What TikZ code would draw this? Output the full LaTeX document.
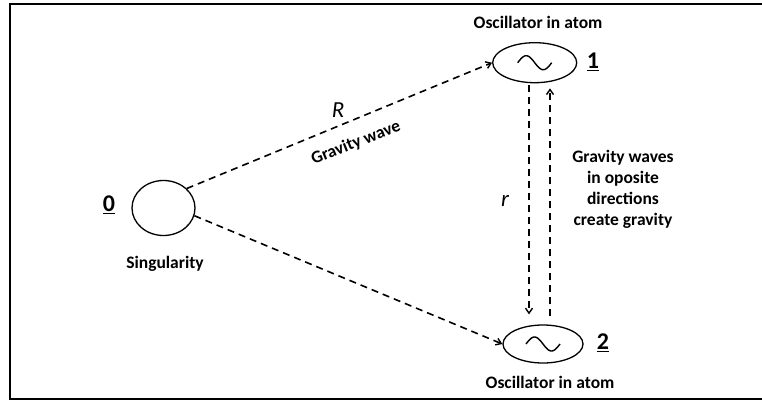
\documentclass[tikz,border=0pt]{standalone}
\usepackage{fontspec}
\setmainfont{Carlito}
\usetikzlibrary{shapes.geometric,arrows.meta,calc}
\begin{document}
\begin{tikzpicture}[x=1pt,y=-1pt,
  lbl/.style={font=\fontsize{17.5}{21}\selectfont\bfseries, inner sep=0pt},
  num/.style={font=\fontsize{24}{26}\selectfont\bfseries, inner sep=0pt},
  var/.style={font=\fontsize{23}{26}\selectfont\itshape, inner sep=0pt},
  osc/.style={draw, line width=1.3pt, ellipse, inner sep=0pt},
  wave/.style={draw, line width=1.6pt, dash pattern=on 7pt off 5pt,
    -{Straight Barb[length=5pt,width=7pt,line width=1.4pt]}},
  frame/.style={draw, line width=2pt}]
\useasboundingbox (0,0) rectangle (762,402);
\draw[frame] (10,3.5) rectangle (775,398.5);
% nodes
\node[osc, minimum width=63pt, minimum height=55pt] (c0) at (163.5,208) {};
\node[osc, minimum width=84pt, minimum height=40pt] (e1) at (534.7,62.7) {};
\node[osc, minimum width=80pt, minimum height=38pt] (e2) at (543,344) {};
% sine symbols
\draw[line width=1.4pt] plot[domain=-17:17, samples=40, smooth] (534.7+\x, {62.7+7*sin(\x*360/34)});
\draw[line width=1.4pt] plot[domain=-17:17, samples=40, smooth] (543+\x, {344+7*sin(\x*360/34)});
% labels
\node[num] (n0) at (109,205) {\underline{0}};
\node[num] (n1) at (593,62) {\underline{1}};
\node[num] (n2) at (603,343) {\underline{2}};
\node[lbl] (s0) at (165,264) {Singularity};
\node[lbl] (t1) at (538,22) {Oscillator in atom};
\node[lbl] (t2) at (550,382) {Oscillator in atom};
\node[lbl, align=center] (gw) at (623,189) {Gravity waves\\in oposite\\directions\\create gravity};
\node[var] (R) at (338,110) {R};
\node[var] (r) at (505,201) {r};
% connectors
\draw[wave] (c0.40) -- (e1.west);
\node[lbl, rotate=21.8] (gwl) at (356,143) {Gravity wave};
\draw[wave] (c0.-14) -- (e2.west);
\draw[wave] ([xshift=-5.7pt,yshift=-2pt]e1.south) -- ([xshift=-14pt,yshift=10pt]e2.north);
\draw[wave] ([xshift=7pt,yshift=8pt]e2.north) -- ([xshift=15.3pt,yshift=-5pt]e1.south);
\end{tikzpicture}
\end{document}
